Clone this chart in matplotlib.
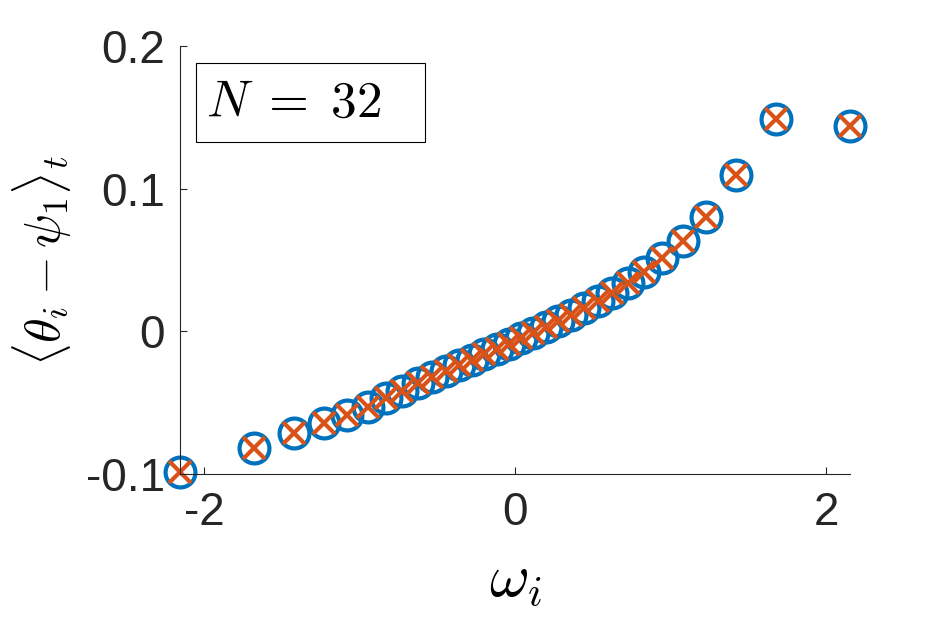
import numpy as np
import matplotlib
matplotlib.use('Agg')
import matplotlib.pyplot as plt
from matplotlib.patches import Rectangle

# natural frequencies omega_i (N = 32) and time-averaged phase offsets
omega = [-2.1538, -1.6759, -1.4178, -1.2298, -1.0775, -0.9467, -0.8305, -0.7248,
         -0.6264, -0.5338, -0.4450, -0.3598, -0.2769, -0.1964, -0.1177, -0.0392,
         0.0392, 0.1177, 0.1964, 0.2769, 0.3598, 0.4450, 0.5338, 0.6264,
         0.7248, 0.8305, 0.9467, 1.0775, 1.2298, 1.4178, 1.6759, 2.1538]
offset_sim = [-0.0985, -0.0816, -0.0716, -0.0643, -0.0585, -0.0530, -0.0465, -0.0415,
              -0.0365, -0.0320, -0.0278, -0.0238, -0.0199, -0.0162, -0.0125, -0.0088,
              -0.0050, -0.0012, 0.0028, 0.0070, 0.0115, 0.0163, 0.0215, 0.0272,
              0.0337, 0.0415, 0.0515, 0.0634, 0.0801, 0.1095, 0.1490, 0.1438]
offset_theory = list(offset_sim)

xticks = [-2, 0, 2]
xticklabels = ['-2', '0', '2']
yticks = [-0.1, 0, 0.1, 0.2]
yticklabels = ['-0.1', '0', '0.1', '0.2']

blue = '#0072BD'
orange = '#D95319'
axcol = (0.15, 0.15, 0.15)

plt.rcParams['mathtext.fontset'] = 'cm'
plt.rcParams['font.family'] = ['Liberation Sans', 'DejaVu Sans']

fig = plt.figure(figsize=(9.38, 6.25), dpi=100)
ax = fig.add_axes([180/938, 1-474/625, 670/938, 428/625])

ax.plot(omega, offset_sim, 'o', ms=21.5, mfc='none', mec=blue, mew=3, clip_on=False)
ax.plot(omega, offset_theory, 'x', ms=16, mec=orange, mew=3, clip_on=False)

ax.set_xlim(min(omega), max(omega))
ax.set_ylim(-0.1, 0.2)
ax.set_xticks(xticks)
ax.set_xticklabels(xticklabels)
ax.set_yticks(yticks)
ax.set_yticklabels(yticklabels)

for s in ['top', 'right']:
    ax.spines[s].set_visible(False)
for s in ['left', 'bottom']:
    ax.spines[s].set_color(axcol)
    ax.spines[s].set_linewidth(0.8)
ax.tick_params(direction='in', length=5, width=0.8, colors=axcol,
               labelsize=33, labelcolor=axcol)
ax.tick_params(axis='y', pad=11)
ax.tick_params(axis='x', pad=12)

ax.set_xlabel(r'$\omega_i$', fontsize=44, labelpad=12)
ax.set_ylabel(r'$\langle\theta_i-\psi_1\rangle_t$', fontsize=36, labelpad=8)

fig.patches.append(Rectangle((196/938, 1-142/625), 229/938, 79/625,
                             transform=fig.transFigure, fill=True, fc='white',
                             ec='black', lw=0.8, zorder=5))
fig.text(206/938, 1-103/625, r'$N\;=\;32$', fontsize=37, va='center', ha='left',
         zorder=6)

fig.savefig('out.png', dpi=100, facecolor='white')
